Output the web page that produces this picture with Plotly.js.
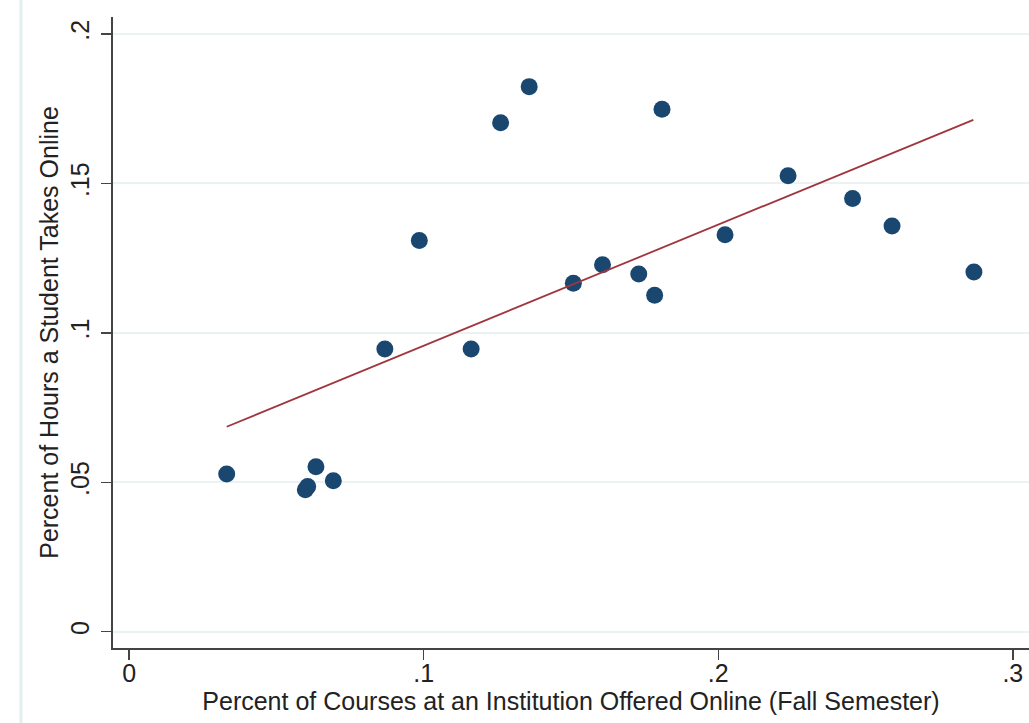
<!DOCTYPE html>
<html>
<head>
<meta charset="utf-8">
<script src="https://cdn.plot.ly/plotly-3.0.1.min.js"></script>
<style>html,body{margin:0;padding:0;background:#fff;}#chart{width:1029px;height:723px;}</style>
</head>
<body>
<div id="chart"></div>
<script>
// Percent of courses offered online (x) and percent of hours taken online (y)
const pctCoursesOnline = [0.0331, 0.0598, 0.0606, 0.0634, 0.0693, 0.0868, 0.0985, 0.1161, 0.1261, 0.1358,
                          0.1508, 0.1607, 0.1730, 0.1784, 0.1809, 0.2023, 0.2237, 0.2456, 0.2590, 0.2868];
const pctHoursOnline   = [0.0528, 0.0475, 0.0486, 0.0552, 0.0505, 0.0946, 0.1309, 0.0946, 0.1703, 0.1824,
                          0.1166, 0.1228, 0.1197, 0.1126, 0.1748, 0.1328, 0.1526, 0.1450, 0.1358, 0.1204];
// Linear fit line endpoints
const fitX = [0.0331, 0.2866];
const fitY = [0.0686, 0.1713];
const xTickVals = [0, 0.1, 0.2, 0.3];
const xTickText = ["0", ".1", ".2", ".3"];
const yTickVals = [0, 0.05, 0.1, 0.15, 0.2];
const yTickText = ["0", ".05", ".1", ".15", ".2"];

const font = "Liberation Sans, Arial, Helvetica, sans-serif";
const fs = 25;

const traces = [
  {
    x: pctCoursesOnline, y: pctHoursOnline, type: "scatter", mode: "markers",
    marker: {color: "#1a476f", size: 17, line: {width: 0}},
    hoverinfo: "x+y", showlegend: false
  },
  {
    x: fitX, y: fitY, type: "scatter", mode: "lines",
    line: {color: "#a0363d", width: 1.8},
    hoverinfo: "skip", showlegend: false
  }
];

const layout = {
  width: 1029, height: 723,
  margin: {l: 113, r: 0, t: 17, b: 75, pad: 0},
  paper_bgcolor: "#ffffff", plot_bgcolor: "#ffffff",
  font: {family: font, color: "#222", size: fs},
  showlegend: false,
  xaxis: {
    range: [-0.0055, 0.3055], tickvals: xTickVals, ticktext: xTickText,
    showgrid: false, zeroline: false, showline: true, linecolor: "#444", linewidth: 2,
    ticks: "outside", ticklen: 10, tickwidth: 1.5, tickcolor: "#444",
    ticklabelstandoff: -8,
    tickfont: {family: font, size: fs, color: "#222"},
    title: {text: "Percent of Courses at an Institution Offered Online (Fall Semester)", font: {family: font, size: fs, color: "#222"}, standoff: 6},
    fixedrange: true
  },
  yaxis: {
    range: [-0.00545, 0.2057], tickvals: yTickVals, ticktext: yTickText, tickangle: -90,
    showgrid: true, gridcolor: "#eaf2f3", gridwidth: 2, zeroline: false,
    showline: true, linecolor: "#444", linewidth: 2,
    ticks: "outside", ticklen: 10, tickwidth: 1.5, tickcolor: "#444",
    ticklabelstandoff: 2,
    tickfont: {family: font, size: fs, color: "#222"},
    title: {text: "Percent of Hours a Student Takes Online", font: {family: font, size: fs, color: "#222"}, standoff: 0},
    fixedrange: true
  },
  shapes: [
    {type: "line", xref: "paper", yref: "paper", x0: -0.1005, x1: -0.1005, y0: -0.2, y1: 1.1,
     line: {color: "#e4eef0", width: 3}}
  ]
};

Plotly.newPlot("chart", traces, layout, {displayModeBar: false, staticPlot: true});
</script>
</body>
</html>
